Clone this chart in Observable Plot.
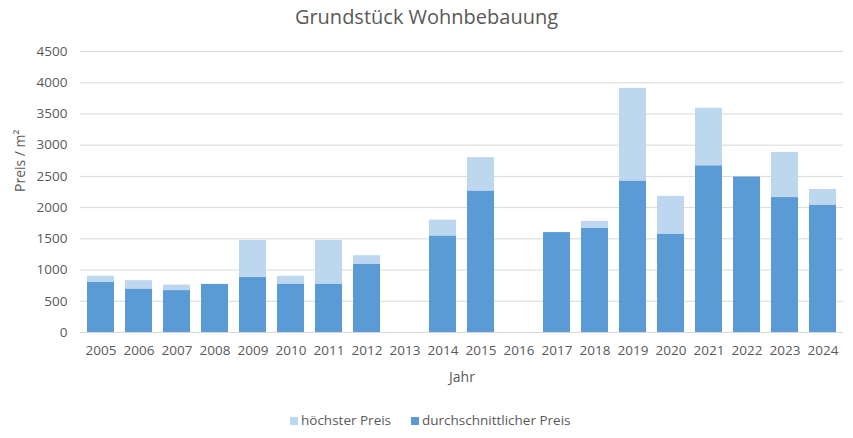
<!DOCTYPE html>
<html>
<head>
<meta charset="utf-8">
<script src="https://cdn.jsdelivr.net/npm/d3@7"></script>
<script src="https://cdn.jsdelivr.net/npm/@observablehq/plot@0.6"></script>
<style>
  body { margin: 0; background: #fff; font-family: "Open Sans", sans-serif; color: #595959; }
  #wrap { position: relative; width: 853px; height: 438px; overflow: hidden; }
  #title { position: absolute; top: 5px; left: 0; width: 853px; text-align: center; font-size: 20px; line-height: 24px; color: #595959; }
  #chart { position: absolute; top: 40px; left: 0; }
  #legend { position: absolute; top: 412px; left: 0; width: 853px; font-size: 13.5px; line-height: 16px; color: #595959; }
  .item { position: absolute; top: 0; white-space: nowrap; }
  .sw { display: inline-block; width: 8px; height: 8px; margin-right: 3px; vertical-align: 0px; }
</style>
</head>
<body>
<div id="wrap">
  <div id="title">Grundstück Wohnbebauung</div>
  <div id="chart"></div>
  <div id="legend">
    <span class="item" style="left:290px"><span class="sw" style="background:#bdd7ee"></span>höchster Preis</span>
    <span class="item" style="left:411px"><span class="sw" style="background:#5b9bd5"></span>durchschnittlicher Preis</span>
  </div>
</div>
<script>
const years = ["2005","2006","2007","2008","2009","2010","2011","2012","2013","2014","2015","2016","2017","2018","2019","2020","2021","2022","2023","2024"];
const maxPrice = [900, 830, 760, null, 1475, 900, 1475, 1230, null, 1800, 2800, null, null, 1780, 3910, 2180, 3590, null, 2885, 2290];
const avgPrice = [800, 690, 670, 770, 880, 770, 770, 1090, null, 1540, 2260, null, 1600, 1665, 2420, 1570, 2665, 2490, 2160, 2035];
const yTicks = [0, 500, 1000, 1500, 2000, 2500, 3000, 3500, 4000, 4500];

const maxData = years.map((y, i) => ({year: y, value: maxPrice[i]})).filter(d => d.value != null);
const avgData = years.map((y, i) => ({year: y, value: avgPrice[i]})).filter(d => d.value != null);

const chart = Plot.plot({
  width: 853,
  height: 360,
  marginLeft: 80,
  marginRight: 10,
  marginTop: 11,
  marginBottom: 68,
  style: {fontFamily: "Open Sans, sans-serif", fontSize: "13.5px", color: "#595959", background: "white"},
  x: {domain: years, paddingInner: 0.29, paddingOuter: 0.15, label: null},
  y: {domain: [0, 4500], label: null},
  marks: [
    Plot.ruleY(yTicks, {stroke: "#d9d9d9", strokeWidth: 1}),
    Plot.barY(maxData, {x: "year", y: "value", fill: "#bdd7ee"}),
    Plot.barY(avgData, {x: "year", y: "value", fill: "#5b9bd5"}),
    Plot.axisX({tickSize: 0, tickPadding: 13, label: null, fill: "#595959"}),
    Plot.axisY({ticks: yTicks, tickSize: 0, tickPadding: 13, label: null, fill: "#595959", tickFormat: d => String(d)}),
    Plot.text(["Jahr"], {frameAnchor: "bottom", dy: 45, lineAnchor: "middle", fontSize: 14, fill: "#595959"}),
    Plot.text(["Preis / m²"], {frameAnchor: "left", dx: -60, rotate: -90, lineAnchor: "middle", fontSize: 14, fill: "#595959"})
  ]
});
document.getElementById("chart").appendChild(chart);
</script>
</body>
</html>
